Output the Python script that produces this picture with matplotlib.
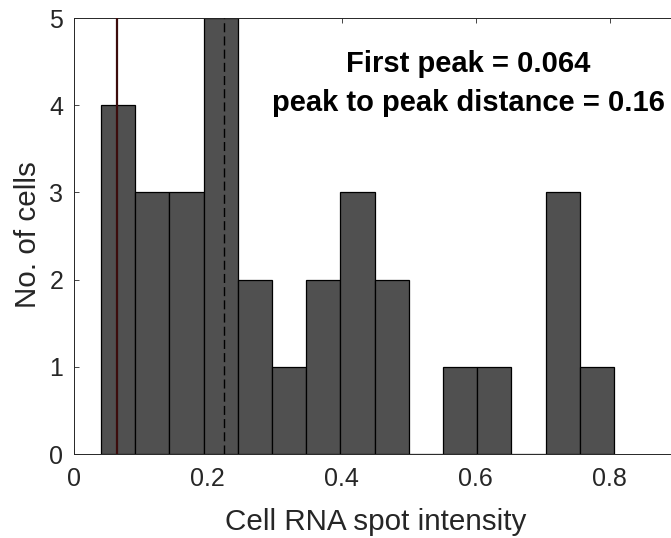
import numpy as np
import matplotlib
matplotlib.use("Agg")
import matplotlib.pyplot as plt

# Histogram of per-cell RNA spot intensity
counts = [4, 3, 3, 5, 2, 1, 2, 3, 2, 0, 1, 1, 0, 3, 1]
bin_start = 0.0407
bin_width = 0.05105
first_peak = 0.064
peak_distance = 0.16

edges = bin_start + bin_width * np.arange(len(counts) + 1)

plt.rcParams['font.family'] = ['Liberation Sans', 'DejaVu Sans']

fig = plt.figure(figsize=(6.71, 5.38), dpi=100)
ax = fig.add_axes([0.1098, 0.156, 0.8987, 0.8104])

ax.bar(edges[:-1], counts, width=bin_width, align='edge',
       color='#505050', edgecolor='black', linewidth=0.9, zorder=2)

ax.axvline(first_peak, color='#3c0c0c', linewidth=1.6, zorder=3)
ax.axvline(first_peak + peak_distance, color='black', linewidth=1.0,
           linestyle=(0, (6.5, 3)), zorder=3)

ax.text(0.5885, 4.25,
        f"First peak = {first_peak}\npeak to peak distance = {peak_distance}",
        ha='center', va='center', fontsize=21, fontweight='bold',
        linespacing=1.5, color='black', zorder=4)

ax.set_xlim(0, 0.9)
ax.set_ylim(0, 5)
ax.set_xticks([0, 0.2, 0.4, 0.6, 0.8])
ax.set_xticklabels(['0', '0.2', '0.4', '0.6', '0.8'])
ax.set_yticks([0, 1, 2, 3, 4, 5])

ax.tick_params(direction='in', length=3.6, width=0.6, colors='#262626',
               labelsize=18, top=True, right=True)
ax.tick_params(axis='x', pad=9.4)
ax.tick_params(axis='y', pad=7.5)
for s in ax.spines.values():
    s.set_color('#262626')
    s.set_linewidth(0.7)

ax.set_xlabel('Cell RNA spot intensity', fontsize=21.3, color='#262626')
ax.set_ylabel('No. of cells', fontsize=21.3, color='#262626')
ax.xaxis.set_label_coords(376 / 671, 8 / 538, transform=fig.transFigure)
ax.yaxis.set_label_coords(28 / 671, (538 - 235) / 538, transform=fig.transFigure)
ax.xaxis.label.set_va('baseline')
ax.yaxis.label.set_va('center')

fig.savefig('out.png', dpi=100)
